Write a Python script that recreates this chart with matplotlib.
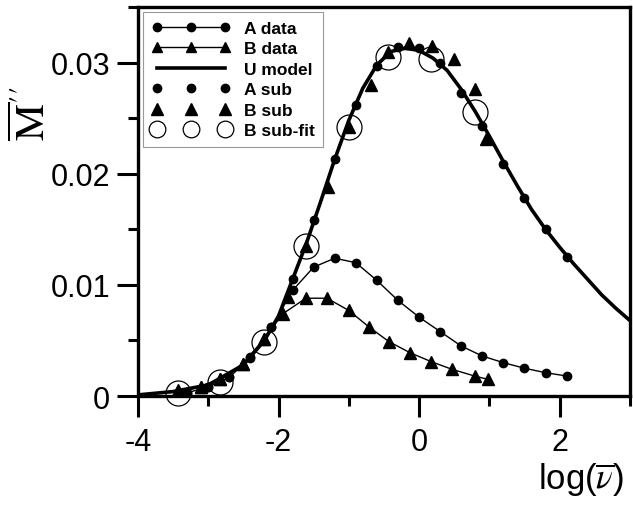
import matplotlib
matplotlib.use("Agg")
import matplotlib.pyplot as plt

plt.rcParams["font.family"] = ["Liberation Sans", "DejaVu Sans"]
plt.rcParams["mathtext.fontset"] = "stix"

# A data (dots, thin line)
a_x = [-3.3, -3.0, -2.7, -2.4, -2.1, -1.8, -1.5, -1.2, -0.9, -0.6, -0.3, 0.0,
       0.3, 0.6, 0.9, 1.2, 1.5, 1.8, 2.1]
a_y = [0.0003, 0.0008, 0.0017, 0.0034, 0.0062, 0.0095, 0.0116, 0.0124, 0.0120,
       0.0104, 0.0086, 0.0071, 0.0058, 0.0045, 0.0036, 0.0030, 0.0025, 0.0021, 0.0018]

# B data (triangles, thin line)
b_x = [-3.43, -3.11, -2.83, -2.51, -2.21, -1.94, -1.61, -1.31, -1.0, -0.71,
       -0.43, -0.13, 0.17, 0.47, 0.79, 0.98]
b_y = [0.0004, 0.0008, 0.0015, 0.0029, 0.0051, 0.0074, 0.0088, 0.0088, 0.0077,
       0.0062, 0.0049, 0.0039, 0.0031, 0.0024, 0.0018, 0.0015]

# U model (thick line)
u_x = [-4.0, -3.5, -3.0, -2.5, -2.2, -2.0, -1.8, -1.6, -1.4, -1.2, -1.0, -0.8,
       -0.6, -0.4, -0.2, 0.0, 0.2, 0.4, 0.6, 0.8, 1.0, 1.2, 1.4, 1.6, 1.8, 2.0,
       2.2, 2.4, 2.6, 2.8, 3.0]
u_y = [0.0001, 0.0004, 0.0010, 0.0028, 0.0050, 0.0072, 0.0105, 0.0138, 0.0175,
       0.0213, 0.0248, 0.0277, 0.0298, 0.0310, 0.0313, 0.0311, 0.0304, 0.0293,
       0.0276, 0.0256, 0.0234, 0.0211, 0.0189, 0.0168, 0.0150, 0.0134, 0.0119,
       0.0105, 0.0091, 0.0079, 0.0068]

# A sub (dots on the model)
asub_x = a_x
asub_y = [0.0003, 0.0008, 0.0017, 0.0035, 0.0062, 0.0105, 0.0158, 0.0213, 0.0262,
          0.0297, 0.0314, 0.0313, 0.0300, 0.0273, 0.0243, 0.0209, 0.0178, 0.0150, 0.0125]

# B sub (triangles on the model)
bsub_x = [-3.43, -3.11, -2.83, -2.5, -2.21, -1.87, -1.61, -1.29, -1.0, -0.69,
          -0.44, -0.14, 0.19, 0.5, 0.79, 0.96]
bsub_y = [0.0005, 0.0008, 0.0015, 0.0029, 0.0051, 0.0089, 0.0135, 0.0188, 0.0242,
          0.0280, 0.0310, 0.0318, 0.0315, 0.0303, 0.0276, 0.0231]

# B sub-fit (open circles)
bfit_x = [-3.43, -2.83, -2.21, -1.61, -1.0, -0.44, 0.17, 0.79]
bfit_y = [0.0003, 0.0013, 0.0049, 0.0135, 0.0242, 0.0305, 0.0303, 0.0256]

fig = plt.figure(figsize=(6.33, 5.06), dpi=100)
ax = fig.add_axes([0.218, 0.2154, 0.777, 0.7686])

ax.plot(a_x, a_y, "-o", color="black", lw=1.0, ms=6, label="A data")
ax.plot(b_x, b_y, "-^", color="black", lw=1.0, ms=8, label="B data")
ax.plot(u_x, u_y, "-", color="black", lw=2.6, label="U model")
ax.plot(asub_x, asub_y, "o", color="black", ms=6, ls="none", label="A sub")
ax.plot(bsub_x, bsub_y, "^", color="black", ms=9, ls="none", label="B sub")
ax.plot(bfit_x, bfit_y, "o", mfc="none", mec="black", mew=0.9, ms=18,
        ls="none", label="B sub-fit", clip_on=False)

ax.set_xlim(-4, 3)
ax.set_ylim(0, 0.035)
ax.set_xticks([-4, -2, 0, 2])
ax.set_xticks([-3, -1, 1, 3], minor=True)
ax.set_xticklabels(["-4", "-2", "0", "2"])
ax.set_yticks([0, 0.01, 0.02, 0.03])
ax.set_yticks([0.005, 0.015, 0.025, 0.035], minor=True)
ax.set_yticklabels(["0", "0.01", "0.02", "0.03"])
ax.tick_params(which="major", direction="out", length=15, width=2.2, labelsize=22, pad=5)
ax.tick_params(which="minor", direction="out", length=7, width=2.2)
ax.tick_params(axis="x", which="major", pad=7)
for s in ax.spines.values():
    s.set_linewidth(2.4)

leg = ax.legend(loc="upper left", numpoints=3, handlelength=4.5, handletextpad=0.8,
                labelspacing=0.3, borderaxespad=0.3, borderpad=0.5, fancybox=False,
                prop={"weight": "bold", "size": 12.5})
leg.get_frame().set_edgecolor("gray")
leg.get_frame().set_linewidth(0.8)
# smaller markers in the legend than on the plot
for h, ms in zip(leg.legend_handles, [6, 7, 0, 6, 8, 12]):
    if ms:
        h.set_markersize(ms)

fig.text(0.985, 0.015, r"log($\overline{\nu}$)", fontsize=25, ha="right", va="bottom")
fig.text(0.052, 0.775, r"$\overline{\mathrm{M}}''$", fontsize=30, rotation=90,
         ha="center", va="center")

fig.savefig("out.png", dpi=100)
